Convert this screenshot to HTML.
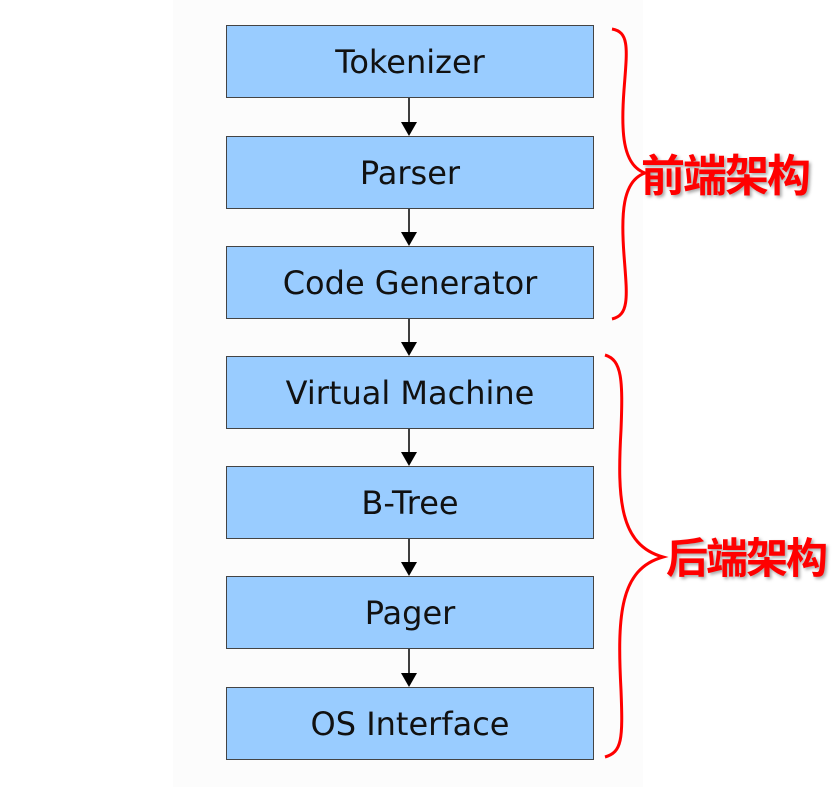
<!DOCTYPE html>
<html><head><meta charset="utf-8"><style>
body{margin:0;background:#fff;width:832px;height:787px;position:relative;overflow:hidden;font-family:"Liberation Sans","DejaVu Sans",sans-serif}
.panel{position:absolute;left:173px;top:0;width:470px;height:787px;background:#fcfcfc}
.b{position:absolute;left:226px;width:366px;height:71px;background:#99ccff;border:1px solid #444;display:flex;align-items:center;justify-content:center;font-family:"DejaVu Sans",sans-serif;font-size:32px;color:#111}
.lab{position:absolute;font-family:"Noto Sans CJK SC",sans-serif;font-weight:bold;color:#f00;text-shadow:2px 2px 3px rgba(0,0,0,.35);line-height:1;white-space:nowrap}
</style></head><body>
<div class="panel"></div>
<div class="b" style="top:25px">Tokenizer</div>
<div class="b" style="top:136px">Parser</div>
<div class="b" style="top:246px">Code Generator</div>
<div class="b" style="top:356px">Virtual Machine</div>
<div class="b" style="top:466px">B-Tree</div>
<div class="b" style="top:576px">Pager</div>
<div class="b" style="top:687px">OS Interface</div>
<svg width="832" height="787" style="position:absolute;left:0;top:0">
<g stroke="#000" stroke-width="1.5" fill="#000">
<line x1="409" y1="98" x2="409" y2="125"/><polygon stroke="none" points="401,122 417,122 409,136"/>
<line x1="409" y1="209" x2="409" y2="235"/><polygon stroke="none" points="401,232 417,232 409,246"/>
<line x1="409" y1="319" x2="409" y2="345"/><polygon stroke="none" points="401,342 417,342 409,356"/>
<line x1="409" y1="429" x2="409" y2="455"/><polygon stroke="none" points="401,452 417,452 409,466"/>
<line x1="409" y1="539" x2="409" y2="565"/><polygon stroke="none" points="401,562 417,562 409,576"/>
<line x1="409" y1="649" x2="409" y2="676"/><polygon stroke="none" points="401,673 417,673 409,687"/>
</g>
<g stroke="#f00" stroke-width="3" fill="none">
<path d="M612,29 C630,32 627,50 624,90 C621,130 622,165 645,173 C622,181 621,215 624,255 C627,295 630,315 612,319"/>
<path d="M605,355 C622,360 623,380 621,430 C617,500 620,545 663,557 C620,569 617,615 621,690 C623,740 622,752 605,757"/>
</g>
</svg>
<div class="lab" style="left:641px;top:150px;font-size:44px;letter-spacing:-2px">前端架构</div>
<div class="lab" style="left:666px;top:535px;font-size:42px;letter-spacing:-2px">后端架构</div>
</body></html>
